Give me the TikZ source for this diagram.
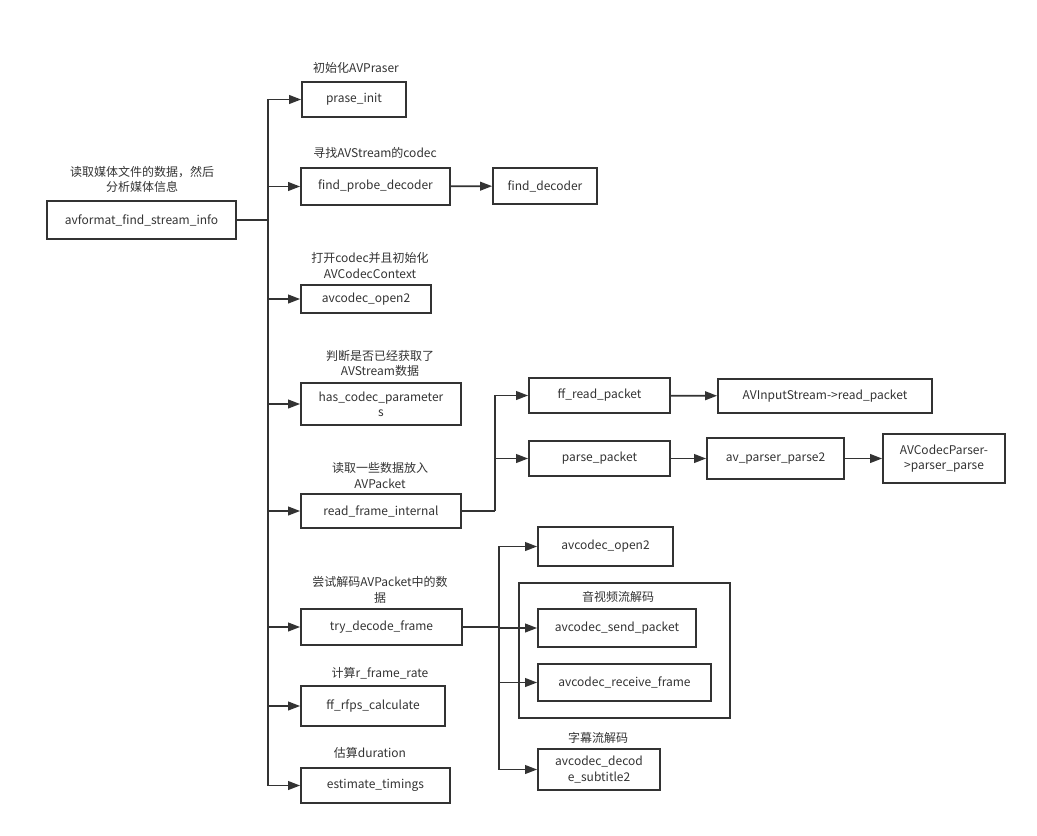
\documentclass[tikz,border=0pt]{standalone}
\usepackage{fontspec}
\setmainfont{Noto Sans CJK SC}
\usepackage{xcolor}
\usetikzlibrary{arrows.meta}
\definecolor{ink}{HTML}{333333}
\tikzset{
  box/.style={draw=ink, line width=1.3pt, inner sep=1pt, align=center, text=ink},
  note/.style={inner sep=0pt, align=center, text=ink},
  link/.style={draw=ink, line width=1.3pt},
  arr/.style={link, -{Triangle[length=9pt,width=6.5pt]}}
}
\begin{document}
\begin{tikzpicture}[x=0.75pt, y=-0.75pt, font=\fontsize{9}{11.5}\selectfont]
  \useasboundingbox (0,0) rectangle (1037,835);
  % left column
  \node [box, minimum width=141.75pt, minimum height=28.5pt] (fmt) at (141.5,220) {avformat\_find\_stream\_info};
  \node [note] (tfmt) at (142,179.5) {读取媒体文件的数据，然后\\分析媒体信息};

  \node [box, minimum width=78pt, minimum height=26.25pt] (prase) at (354,99.5) {prase\_init};
  \node [note] (tprase) at (356,68) {初始化AVPraser};
  \node [box, minimum width=111.75pt, minimum height=27.75pt] (probe) at (375.5,186.5) {find\_probe\_decoder};
  \node [note] (tprobe) at (375,153) {寻找AVStream的codec};
  \node [box, minimum width=78pt, minimum height=27pt] (fdec) at (545,186) {find\_decoder};
  \node [box, minimum width=97.5pt, minimum height=21pt] (opena) at (366,299) {avcodec\_open2};
  \node [note] (topena) at (370,265.5) {打开codec并且初始化\\AVCodecContext};
  \node [box, minimum width=120pt, minimum height=31.5pt] (hascp) at (381,404) {has\_codec\_parameter\\s};
  \node [note] (thascp) at (380,363.5) {判断是否已经获取了\\AVStream数据};
  \node [box, minimum width=120pt, minimum height=25.5pt] (rfi) at (381,511) {read\_frame\_internal};
  \node [note] (trfi) at (380,475.5) {读取一些数据放入\\AVPacket};
  \node [box, minimum width=120.75pt, minimum height=27pt] (tdf) at (381.5,627) {try\_decode\_frame};
  \node [note] (ttdf) at (380,590) {尝试解码AVPacket中的数\\据};
  \node [box, minimum width=108pt, minimum height=30pt] (rfps) at (373,706) {ff\_rfps\_calculate};
  \node [note] (trfps) at (380,673) {计算r\_frame\_rate};
  \node [box, minimum width=111.75pt, minimum height=26.25pt] (est) at (375.5,785.5) {estimate\_timings};
  \node [note] (test) at (370,753) {估算duration};

  % read branch
  \node [box, minimum width=105.75pt, minimum height=26.25pt] (frp) at (599.5,395.5) {ff\_read\_packet};
  \node [box, minimum width=105.75pt, minimum height=26.25pt] (ppk) at (599.5,458.5) {parse\_packet};
  \node [box, minimum width=160.5pt, minimum height=25.5pt] (ais) at (825,396) {AVInputStream->read\_packet};
  \node [box, minimum width=102.75pt, minimum height=30.75pt] (app) at (775.5,458.5) {av\_parser\_parse2};
  \node [box, minimum width=91.5pt, minimum height=36.75pt] (acp) at (944,458.5) {AVCodecParser-\\>parser\_parse};

  % decode branch
  \node [box, minimum width=101.25pt, minimum height=29.25pt] (openb) at (605.5,546.5) {avcodec\_open2};
  \draw [link] (519,583) rectangle (730,718);
  \node [note] (tav) at (618,597) {音视频流解码};
  \node [box, minimum width=118.5pt, minimum height=28.5pt] (sendp) at (617,628) {avcodec\_send\_packet};
  \node [box, minimum width=129.75pt, minimum height=27.75pt] (recvf) at (624.5,682.5) {avcodec\_receive\_frame};
  \node [box, minimum width=91.5pt, minimum height=30.75pt] (subt) at (599,769.5) {avcodec\_decod\\e\_subtitle2};
  \node [note] (tsubt) at (598,738) {字幕流解码};

  % connectors
  \coordinate (trunk) at (268,220);
  \coordinate (b1) at (495,511);
  \coordinate (b2) at (499,627);
  \draw [link] (fmt) -- (trunk);
  \foreach \n in {prase,probe,opena,hascp,rfi,tdf,rfps,est}
    \draw [arr] (trunk) |- (\n);
  \draw [link] (rfi) -- (b1);
  \foreach \n in {frp,ppk}
    \draw [arr] (b1) |- (\n);
  \draw [link] (tdf) -- (b2);
  \foreach \n in {openb,sendp,recvf,subt}
    \draw [arr] (b2) |- (\n);
  \draw [arr] (probe) -- (fdec);
  \draw [arr] (frp) -- (ais);
  \draw [arr] (ppk) -- (app);
  \draw [arr] (app) -- (acp);
\end{tikzpicture}
\end{document}
